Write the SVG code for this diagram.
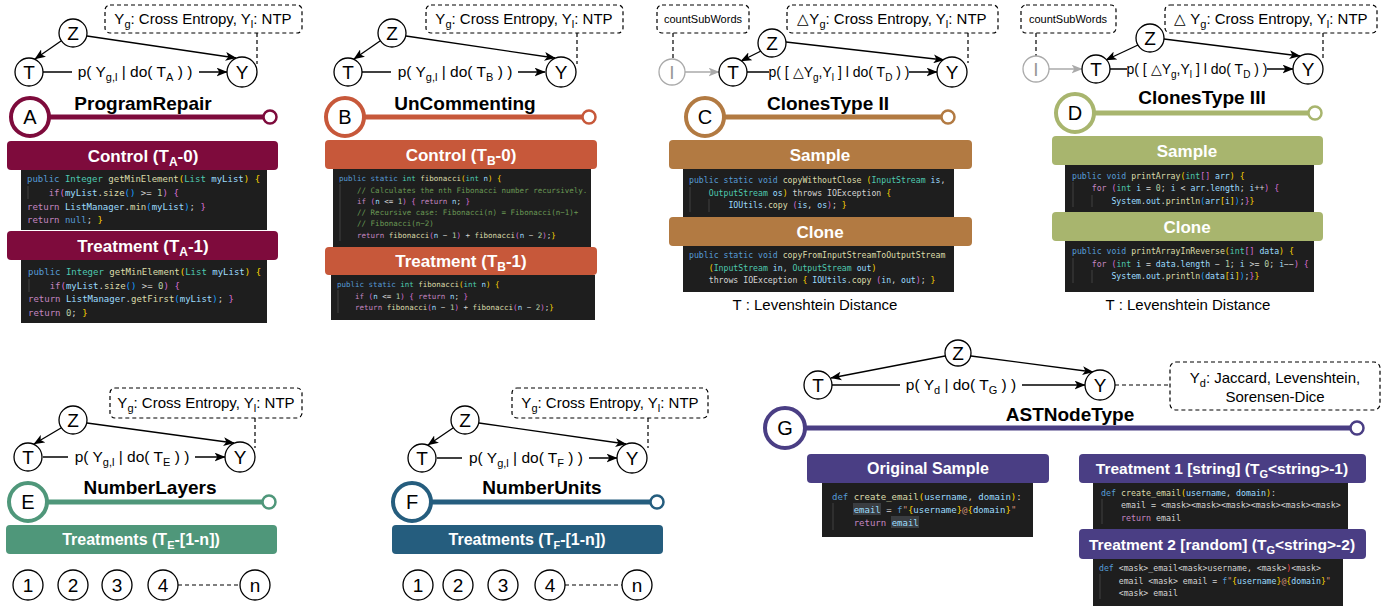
<svg xmlns="http://www.w3.org/2000/svg" width="1391" height="606" viewBox="0 0 1391 606">
<style>
text{font-family:"Liberation Sans",Arial,sans-serif;}
.nd{fill:#fff;stroke:#000;stroke-width:1.3;}
.ndg{fill:#fff;stroke:#aaa;stroke-width:1.3;}
.lt{font-size:19px;text-anchor:middle;fill:#000;}
.note{fill:#fff;stroke:#000;stroke-width:1.2;stroke-dasharray:4 3;}
.nt{font-size:15px;text-anchor:middle;}
.sm{font-size:11px;text-anchor:middle;}
.ttl{font-size:19px;font-weight:bold;text-anchor:middle;}
.bt{font-size:17px;font-weight:bold;fill:#fff;text-anchor:middle;}
.bl{font-size:20px;text-anchor:middle;}
.el{font-size:15.5px;text-anchor:middle;}
.el2{font-size:14px;text-anchor:middle;}
.cb{fill:#1e1e1e;}
.code{font-family:"DejaVu Sans Mono",monospace;fill:#d4d4d4;white-space:pre;}
.k{fill:#569cd6}.t{fill:#4ec9b0}.f{fill:#dcdcaa}.v{fill:#9cdcfe}.c{fill:#c586c0}.n{fill:#b5cea8}.cm{fill:#6a9955}.b1{fill:#ffd700}.b2{fill:#da70d6}.b3{fill:#179fff}.s{fill:#ce9178}.r{fill:#f44747}
.ar{fill:none;stroke:#000;stroke-width:1.3;marker-end:url(#ah);}
.arg{fill:none;stroke:#aaa;stroke-width:1.3;marker-end:url(#ahg);}
.dl{fill:none;stroke:#000;stroke-width:1.2;stroke-dasharray:4 3;}
.ig{stroke:#404040;stroke-width:1;}
</style>
<defs>
<marker id="ah" viewBox="0 0 10 8" refX="9.5" refY="4" markerWidth="11" markerHeight="9" markerUnits="userSpaceOnUse" orient="auto"><path d="M0,0 L10,4 L0,8 L2.5,4 z" fill="#000"/></marker>
<marker id="ahg" viewBox="0 0 10 8" refX="9.5" refY="4" markerWidth="11" markerHeight="9" markerUnits="userSpaceOnUse" orient="auto"><path d="M0,0 L10,4 L0,8 L2.5,4 z" fill="#aaa"/></marker>
</defs>
<rect width="1391" height="606" fill="#fff"/>

<g id="connectors">
<path class="ar" d="M61,41 L35,59"/>
<path class="ar" d="M87,36 L236,58"/>
<path class="ar" d="M43,72 L227,72"/>
<path class="dl" d="M257,33 L257,64"/>
<path class="ar" d="M380,41 L354,59"/>
<path class="ar" d="M406,36 L555,58"/>
<path class="ar" d="M362,72 L545,72"/>
<path class="dl" d="M577,33 L577,64"/>
<path class="dl" d="M673,33 L673,59"/>
<path class="arg" d="M685,72 L719,72"/>
<path class="ar" d="M761,51 L741,61"/>
<path class="ar" d="M786,42 L944,60"/>
<path class="ar" d="M747,72 L937,72"/>
<path class="dl" d="M968,33 L968,63"/>
<path class="dl" d="M1036,33 L1036,56"/>
<path class="arg" d="M1049,69 L1082,69"/>
<path class="ar" d="M1138,45 L1106,60"/>
<path class="ar" d="M1164,39 L1300,56"/>
<path class="ar" d="M1110,69 L1293,69"/>
<path class="dl" d="M1323,33 L1323,60"/>
<path class="ar" d="M61,428 L34,444"/>
<path class="ar" d="M87,423 L234,443"/>
<path class="ar" d="M43,457 L225,457"/>
<path class="dl" d="M255,418 L255,448"/>
<path class="dl" d="M178,585 L240,585"/>
<path class="ar" d="M453,428 L428,445"/>
<path class="ar" d="M479,423 L626,444"/>
<path class="ar" d="M437,458 L617,458"/>
<path class="dl" d="M648,418 L648,448"/>
<path class="dl" d="M565,585 L622,585"/>
<path class="ar" d="M945,356 L831,378"/>
<path class="ar" d="M971,356 L1093,372"/>
<path class="ar" d="M832,385 L1085,385"/>
<path class="dl" d="M1115,385 L1170,385"/>
</g>

<g id="edge-labels">
<rect x="72" y="62" width="127" height="20" fill="#fff"/>
<text class="el" x="135" y="77">p( Y<tspan font-size="11" dy="4">g,l</tspan><tspan dy="-4"> | do( T</tspan><tspan font-size="11" dy="4">A</tspan><tspan dy="-4"> ) )</tspan></text>
<rect x="391" y="62" width="127" height="20" fill="#fff"/>
<text class="el" x="455" y="77">p( Y<tspan font-size="11" dy="4">g,l</tspan><tspan dy="-4"> | do( T</tspan><tspan font-size="11" dy="4">B</tspan><tspan dy="-4"> ) )</tspan></text>
<rect x="769" y="63" width="140" height="18" fill="#fff"/>
<text class="el2" x="839" y="77">p( [ △Y<tspan font-size="10" dy="4">g</tspan><tspan dy="-4">,Y</tspan><tspan font-size="10" dy="4">l</tspan><tspan dy="-4"> ] l do( T</tspan><tspan font-size="10" dy="4">D</tspan><tspan dy="-4"> ) )</tspan></text>
<rect x="1127" y="60" width="140" height="18" fill="#fff"/>
<text class="el2" x="1197" y="74">p( [ △Y<tspan font-size="10" dy="4">g</tspan><tspan dy="-4">,Y</tspan><tspan font-size="10" dy="4">l</tspan><tspan dy="-4"> ] l do( T</tspan><tspan font-size="10" dy="4">D</tspan><tspan dy="-4"> ) )</tspan></text>
<rect x="68" y="447" width="127" height="20" fill="#fff"/>
<text class="el" x="132" y="462">p( Y<tspan font-size="11" dy="4">g,l</tspan><tspan dy="-4"> | do( T</tspan><tspan font-size="11" dy="4">E</tspan><tspan dy="-4"> ) )</tspan></text>
<rect x="462" y="448" width="127" height="20" fill="#fff"/>
<text class="el" x="526" y="463">p( Y<tspan font-size="11" dy="4">g,l</tspan><tspan dy="-4"> | do( T</tspan><tspan font-size="11" dy="4">F</tspan><tspan dy="-4"> ) )</tspan></text>
<rect x="900" y="375" width="122" height="20" fill="#fff"/>
<text class="el" x="961" y="390">p( Y<tspan font-size="11" dy="4">d</tspan><tspan dy="-4"> | do( T</tspan><tspan font-size="11" dy="4">G</tspan><tspan dy="-4"> ) )</tspan></text>
</g>

<g id="A-note"><rect class="note" x="105" y="5" width="197" height="28" rx="5"/>
<text class="nt" x="203" y="24">Y<tspan font-size="11" dy="4">g</tspan><tspan dy="-4">: Cross Entropy, Y</tspan><tspan font-size="11" dy="4">l</tspan><tspan dy="-4">: NTP</tspan></text></g>
<g id="A-Z"><circle class="nd" cx="73" cy="33" r="14"/><text class="lt" x="73" y="40">Z</text></g>
<g id="A-T"><circle class="nd" cx="29" cy="72" r="14"/><text class="lt" x="29" y="79">T</text></g>
<g id="A-Y"><circle class="nd" cx="242" cy="72" r="15"/><text class="lt" x="242" y="79">Y</text></g>
<g id="A-title"><text class="ttl" x="143" y="110">ProgramRepair</text></g>
<g id="A-badge"><line x1="50" y1="117" x2="264" y2="117" stroke="#7e0b3c" stroke-width="5"/><circle cx="270" cy="117" r="6.5" fill="#fff" stroke="#7e0b3c" stroke-width="2.5"/><circle cx="30" cy="117" r="19" fill="#fff" stroke="#7e0b3c" stroke-width="4"/><text class="bl" x="30" y="124">A</text></g>
<g id="A-control"><rect x="7" y="141" width="271" height="29" rx="4" fill="#7e0b3c"/><text class="bt" x="143" y="162">Control (T<tspan font-size="12" dy="4">A</tspan><tspan dy="-4">-0)</tspan></text></g>
<g id="A-code0"><rect class="cb" x="21" y="170" width="246" height="60"/>
<line class="ig" x1="28" y1="186" x2="28" y2="199"/>
<text class="code" font-size="9" x="27" y="182"><tspan class="k">public</tspan> <tspan class="t">Integer</tspan> <tspan class="f">getMinElement</tspan><tspan class="b1">(</tspan><tspan class="t">List</tspan> <tspan class="v">myList</tspan><tspan class="b1">)</tspan> <tspan class="b1">{</tspan></text>
<text class="code" font-size="9" x="27" y="196">    <tspan class="c">if</tspan><tspan class="b2">(</tspan><tspan class="v">myList</tspan>.<tspan class="f">size</tspan><tspan class="b3">()</tspan> &gt;= <tspan class="n">1</tspan><tspan class="b2">)</tspan> <tspan class="b2">{</tspan></text>
<text class="code" font-size="9" x="27" y="210"><tspan class="c">return</tspan> <tspan class="v">ListManager</tspan>.<tspan class="f">min</tspan><tspan class="b3">(</tspan><tspan class="v">myList</tspan><tspan class="b3">)</tspan>; <tspan class="b2">}</tspan></text>
<text class="code" font-size="9" x="27" y="223"><tspan class="c">return</tspan> <tspan class="k">null</tspan>; <tspan class="b1">}</tspan></text></g>
<g id="A-treatment"><rect x="7" y="231" width="271" height="29" rx="4" fill="#7e0b3c"/><text class="bt" x="143" y="252">Treatment (T<tspan font-size="12" dy="4">A</tspan><tspan dy="-4">-1)</tspan></text></g>
<g id="A-code1"><rect class="cb" x="21" y="260" width="246" height="63"/>
<line class="ig" x1="29" y1="279" x2="29" y2="292"/>
<text class="code" font-size="9" x="28" y="275"><tspan class="k">public</tspan> <tspan class="t">Integer</tspan> <tspan class="f">getMinElement</tspan><tspan class="b1">(</tspan><tspan class="t">List</tspan> <tspan class="v">myList</tspan><tspan class="b1">)</tspan> <tspan class="b1">{</tspan></text>
<text class="code" font-size="9" x="28" y="289">    <tspan class="c">if</tspan><tspan class="b2">(</tspan><tspan class="v">myList</tspan>.<tspan class="f">size</tspan><tspan class="b3">()</tspan> &gt;= <tspan class="n">0</tspan><tspan class="b2">)</tspan> <tspan class="b2">{</tspan></text>
<text class="code" font-size="9" x="28" y="302"><tspan class="c">return</tspan> <tspan class="v">ListManager</tspan>.<tspan class="f">getFirst</tspan><tspan class="b3">(</tspan><tspan class="v">myList</tspan><tspan class="b3">)</tspan>; <tspan class="b2">}</tspan></text>
<text class="code" font-size="9" x="28" y="316"><tspan class="c">return</tspan> <tspan class="n">0</tspan>; <tspan class="b1">}</tspan></text></g>

<g id="B-note"><rect class="note" x="426" y="5" width="197" height="28" rx="5"/>
<text class="nt" x="524" y="24">Y<tspan font-size="11" dy="4">g</tspan><tspan dy="-4">: Cross Entropy, Y</tspan><tspan font-size="11" dy="4">l</tspan><tspan dy="-4">: NTP</tspan></text></g>
<g id="B-Z"><circle class="nd" cx="392" cy="33" r="14"/><text class="lt" x="392" y="40">Z</text></g>
<g id="B-T"><circle class="nd" cx="348" cy="72" r="14"/><text class="lt" x="348" y="79">T</text></g>
<g id="B-Y"><circle class="nd" cx="561" cy="72" r="15"/><text class="lt" x="561" y="79">Y</text></g>
<g id="B-title"><text class="ttl" x="465" y="110">UnCommenting</text></g>
<g id="B-badge"><line x1="365" y1="117" x2="583" y2="117" stroke="#c7583a" stroke-width="5"/><circle cx="589" cy="117" r="6.5" fill="#fff" stroke="#c7583a" stroke-width="2.5"/><circle cx="345" cy="117" r="19" fill="#fff" stroke="#c7583a" stroke-width="4"/><text class="bl" x="345" y="124">B</text></g>
<g id="B-control"><rect x="325" y="140" width="272" height="29" rx="4" fill="#c7583a"/><text class="bt" x="461" y="161">Control (T<tspan font-size="12" dy="4">B</tspan><tspan dy="-4">-0)</tspan></text></g>
<g id="B-code0"><rect class="cb" x="333" y="169" width="258" height="78"/>
<line class="ig" x1="340" y1="184" x2="340" y2="241"/>
<text class="code" font-size="7.5" x="339" y="181"><tspan class="k">public static</tspan> <tspan class="t">int</tspan> <tspan class="f">fibonacci</tspan><tspan class="b1">(</tspan><tspan class="t">int</tspan> <tspan class="v">n</tspan><tspan class="b1">)</tspan> <tspan class="b1">{</tspan></text>
<text class="code" font-size="7.5" x="339" y="193">    <tspan class="cm">// Calculates the nth Fibonacci number recursively.</tspan></text>
<text class="code" font-size="7.5" x="339" y="204">    <tspan class="c">if</tspan> <tspan class="b2">(</tspan><tspan class="v">n</tspan> &lt;= <tspan class="n">1</tspan><tspan class="b2">)</tspan> <tspan class="b2">{</tspan> <tspan class="c">return</tspan> <tspan class="v">n</tspan>; <tspan class="b2">}</tspan></text>
<text class="code" font-size="7.5" x="339" y="215">    <tspan class="cm">// Recursive case: Fibonacci(n) = Fibonacci(n−1)+</tspan></text>
<text class="code" font-size="7.5" x="339" y="226">    <tspan class="cm">// Fibonacci(n−2)</tspan></text>
<text class="code" font-size="7.5" x="339" y="238">    <tspan class="c">return</tspan> <tspan class="f">fibonacci</tspan><tspan class="b2">(</tspan><tspan class="v">n</tspan> − <tspan class="n">1</tspan><tspan class="b2">)</tspan> + <tspan class="f">fibonacci</tspan><tspan class="b2">(</tspan><tspan class="v">n</tspan> − <tspan class="n">2</tspan><tspan class="b2">)</tspan>;<tspan class="b1">}</tspan></text></g>
<g id="B-treatment"><rect x="325" y="247" width="272" height="28" rx="4" fill="#c7583a"/><text class="bt" x="461" y="267">Treatment (T<tspan font-size="12" dy="4">B</tspan><tspan dy="-4">-1)</tspan></text></g>
<g id="B-code1"><rect class="cb" x="331" y="275" width="264" height="45"/>
<line class="ig" x1="338" y1="290" x2="338" y2="313"/>
<text class="code" font-size="7.5" x="337" y="287"><tspan class="k">public static</tspan> <tspan class="t">int</tspan> <tspan class="f">fibonacci</tspan><tspan class="b1">(</tspan><tspan class="t">int</tspan> <tspan class="v">n</tspan><tspan class="b1">)</tspan> <tspan class="b1">{</tspan></text>
<text class="code" font-size="7.5" x="337" y="299">    <tspan class="c">if</tspan> <tspan class="b2">(</tspan><tspan class="v">n</tspan> &lt;= <tspan class="n">1</tspan><tspan class="b2">)</tspan> <tspan class="b2">{</tspan> <tspan class="c">return</tspan> <tspan class="v">n</tspan>; <tspan class="b2">}</tspan></text>
<text class="code" font-size="7.5" x="337" y="310">    <tspan class="c">return</tspan> <tspan class="f">fibonacci</tspan><tspan class="b2">(</tspan><tspan class="v">n</tspan> − <tspan class="n">1</tspan><tspan class="b2">)</tspan> + <tspan class="f">fibonacci</tspan><tspan class="b2">(</tspan><tspan class="v">n</tspan> − <tspan class="n">2</tspan><tspan class="b2">)</tspan>;<tspan class="b1">}</tspan></text></g>

<g id="C-countSubWords"><rect class="note" x="657" y="5" width="92" height="28" rx="5"/><text class="sm" x="703" y="23">countSubWords</text></g>
<g id="C-note"><rect class="note" x="787" y="5" width="211" height="28" rx="5"/>
<text class="nt" x="892" y="24">△Y<tspan font-size="11" dy="4">g</tspan><tspan dy="-4">: Cross Entropy, Y</tspan><tspan font-size="11" dy="4">l</tspan><tspan dy="-4">: NTP</tspan></text></g>
<g id="C-I"><circle class="ndg" cx="672" cy="72" r="13"/><text class="lt" x="672" y="79" style="fill:#999">I</text></g>
<g id="C-T"><circle class="nd" cx="733" cy="72" r="14"/><text class="lt" x="733" y="79">T</text></g>
<g id="C-Z"><circle class="nd" cx="772" cy="43" r="14"/><text class="lt" x="772" y="50">Z</text></g>
<g id="C-Y"><circle class="nd" cx="952" cy="72" r="15"/><text class="lt" x="952" y="79">Y</text></g>
<g id="C-title"><text class="ttl" x="828" y="110">ClonesType II</text></g>
<g id="C-badge"><line x1="725" y1="117" x2="942" y2="117" stroke="#b27a42" stroke-width="5"/><circle cx="948" cy="117" r="6.5" fill="#fff" stroke="#b27a42" stroke-width="2.5"/><circle cx="705" cy="117" r="19" fill="#fff" stroke="#b27a42" stroke-width="4"/><text class="bl" x="705" y="124">C</text></g>
<g id="C-sample"><rect x="669" y="140" width="303" height="29" rx="4" fill="#b27a42"/><text class="bt" x="820" y="161">Sample</text></g>
<g id="C-code0"><rect class="cb" x="683" y="169" width="271" height="48"/>
<line class="ig" x1="690" y1="187" x2="690" y2="212"/><line class="ig" x1="709" y1="199" x2="709" y2="212"/>
<text class="code" font-size="8.2" x="689" y="183"><tspan class="k">public static void</tspan> <tspan class="f">copyWithoutClose</tspan> <tspan class="b1">(</tspan><tspan class="t">InputStream</tspan> <tspan class="v">is</tspan>,</text>
<text class="code" font-size="8.2" x="689" y="196">    <tspan class="t">OutputStream</tspan> <tspan class="v">os</tspan><tspan class="b1">)</tspan> throws IOException <tspan class="b1">{</tspan></text>
<text class="code" font-size="8.2" x="689" y="208">        <tspan class="v">IOUtils</tspan>.<tspan class="f">copy</tspan> <tspan class="b2">(</tspan><tspan class="v">is</tspan>, <tspan class="v">os</tspan><tspan class="b2">)</tspan>; <tspan class="b1">}</tspan></text></g>
<g id="C-clone"><rect x="669" y="217" width="303" height="29" rx="4" fill="#b27a42"/><text class="bt" x="820" y="238">Clone</text></g>
<g id="C-code1"><rect class="cb" x="683" y="246" width="271" height="46"/>
<text class="code" font-size="8.2" x="689" y="258"><tspan class="k">public static void</tspan> <tspan class="f">copyFromInputStreamToOutputStream</tspan></text>
<text class="code" font-size="8.2" x="689" y="271">    <tspan class="b1">(</tspan><tspan class="t">InputStream</tspan> <tspan class="v">in</tspan>, <tspan class="t">OutputStream</tspan> <tspan class="v">out</tspan><tspan class="b1">)</tspan></text>
<text class="code" font-size="8.2" x="689" y="283">    throws IOException <tspan class="b1">{</tspan> <tspan class="v">IOUtils</tspan>.<tspan class="f">copy</tspan> <tspan class="b2">(</tspan><tspan class="v">in</tspan>, <tspan class="v">out</tspan><tspan class="b2">)</tspan>; <tspan class="b1">}</tspan></text></g>
<g id="C-metric"><text font-size="15" x="815" y="310" text-anchor="middle">T : Levenshtein Distance</text></g>

<g id="D-countSubWords"><rect class="note" x="1021" y="5" width="95" height="28" rx="5"/><text class="sm" x="1068" y="23">countSubWords</text></g>
<g id="D-note"><rect class="note" x="1165" y="5" width="212" height="28" rx="5"/>
<text class="nt" x="1271" y="24">△ Y<tspan font-size="11" dy="4">g</tspan><tspan dy="-4">: Cross Entropy, Y</tspan><tspan font-size="11" dy="4">l</tspan><tspan dy="-4">: NTP</tspan></text></g>
<g id="D-I"><circle class="ndg" cx="1036" cy="69" r="13"/><text class="lt" x="1036" y="76" style="fill:#999">I</text></g>
<g id="D-T"><circle class="nd" cx="1096" cy="69" r="14"/><text class="lt" x="1096" y="76">T</text></g>
<g id="D-Z"><circle class="nd" cx="1150" cy="38" r="14"/><text class="lt" x="1150" y="45">Z</text></g>
<g id="D-Y"><circle class="nd" cx="1308" cy="69" r="15"/><text class="lt" x="1308" y="76">Y</text></g>
<g id="D-title"><text class="ttl" x="1202" y="104">ClonesType III</text></g>
<g id="D-badge"><line x1="1095" y1="113" x2="1309" y2="113" stroke="#a8b56e" stroke-width="5"/><circle cx="1315" cy="113" r="6.5" fill="#fff" stroke="#a8b56e" stroke-width="2.5"/><circle cx="1075" cy="113" r="19" fill="#fff" stroke="#a8b56e" stroke-width="4"/><text class="bl" x="1075" y="120">D</text></g>
<g id="D-sample"><rect x="1052" y="136" width="271" height="29" rx="4" fill="#a8b56e"/><text class="bt" x="1187" y="157">Sample</text></g>
<g id="D-code0"><rect class="cb" x="1065" y="165" width="249" height="47"/>
<line class="ig" x1="1073" y1="182" x2="1073" y2="207"/><line class="ig" x1="1092" y1="195" x2="1092" y2="207"/>
<text class="code" font-size="8.2" x="1072" y="179"><tspan class="k">public void</tspan> <tspan class="f">printArray</tspan><tspan class="b1">(</tspan><tspan class="t">int</tspan><tspan class="b2">[]</tspan> <tspan class="v">arr</tspan><tspan class="b1">)</tspan> <tspan class="b1">{</tspan></text>
<text class="code" font-size="8.2" x="1072" y="191">    <tspan class="c">for</tspan> <tspan class="b2">(</tspan><tspan class="t">int</tspan> <tspan class="v">i</tspan> = <tspan class="n">0</tspan>; <tspan class="v">i</tspan> &lt; <tspan class="v">arr</tspan>.<tspan class="v">length</tspan>; <tspan class="v">i</tspan>++<tspan class="b2">)</tspan> <tspan class="b2">{</tspan></text>
<text class="code" font-size="8.2" x="1072" y="204">        <tspan class="v">System</tspan>.<tspan class="v">out</tspan>.<tspan class="f">println</tspan><tspan class="b3">(</tspan><tspan class="v">arr</tspan><tspan class="b1">[</tspan><tspan class="v">i</tspan><tspan class="b1">]</tspan><tspan class="b3">)</tspan>;<tspan class="b2">}</tspan><tspan class="b1">}</tspan></text></g>
<g id="D-clone"><rect x="1052" y="212" width="271" height="29" rx="4" fill="#a8b56e"/><text class="bt" x="1187" y="233">Clone</text></g>
<g id="D-code1"><rect class="cb" x="1065" y="241" width="249" height="51"/>
<line class="ig" x1="1073" y1="258" x2="1073" y2="283"/><line class="ig" x1="1092" y1="270" x2="1092" y2="283"/>
<text class="code" font-size="8.2" x="1072" y="254"><tspan class="k">public void</tspan> <tspan class="f">printArrayInReverse</tspan><tspan class="b1">(</tspan><tspan class="t">int</tspan><tspan class="b2">[]</tspan> <tspan class="v">data</tspan><tspan class="b1">)</tspan> <tspan class="b1">{</tspan></text>
<text class="code" font-size="8.2" x="1072" y="267">    <tspan class="c">for</tspan> <tspan class="b2">(</tspan><tspan class="t">int</tspan> <tspan class="v">i</tspan> = <tspan class="v">data</tspan>.<tspan class="v">length</tspan> − <tspan class="n">1</tspan>; <tspan class="v">i</tspan> &gt;= <tspan class="n">0</tspan>; <tspan class="v">i</tspan>−−<tspan class="b2">)</tspan> <tspan class="b2">{</tspan></text>
<text class="code" font-size="8.2" x="1072" y="279">        <tspan class="v">System</tspan>.<tspan class="v">out</tspan>.<tspan class="f">println</tspan><tspan class="b3">(</tspan><tspan class="v">data</tspan><tspan class="b1">[</tspan><tspan class="v">i</tspan><tspan class="b1">]</tspan><tspan class="b3">)</tspan>;<tspan class="b2">}</tspan><tspan class="b1">}</tspan></text></g>
<g id="D-metric"><text font-size="15" x="1188" y="310" text-anchor="middle">T : Levenshtein Distance</text></g>

<g id="E-note"><rect class="note" x="110" y="388" width="192" height="30" rx="5"/>
<text class="nt" x="206" y="408">Y<tspan font-size="11" dy="4">g</tspan><tspan dy="-4">: Cross Entropy, Y</tspan><tspan font-size="11" dy="4">l</tspan><tspan dy="-4">: NTP</tspan></text></g>
<g id="E-Z"><circle class="nd" cx="73" cy="420" r="14"/><text class="lt" x="73" y="427">Z</text></g>
<g id="E-T"><circle class="nd" cx="28" cy="457" r="14"/><text class="lt" x="28" y="464">T</text></g>
<g id="E-Y"><circle class="nd" cx="240" cy="457" r="15"/><text class="lt" x="240" y="464">Y</text></g>
<g id="E-title"><text class="ttl" x="150" y="494">NumberLayers</text></g>
<g id="E-badge"><line x1="48" y1="502" x2="263" y2="502" stroke="#4f977a" stroke-width="5"/><circle cx="269" cy="502" r="6.5" fill="#fff" stroke="#4f977a" stroke-width="2.5"/><circle cx="28" cy="502" r="19" fill="#fff" stroke="#4f977a" stroke-width="4"/><text class="bl" x="28" y="509">E</text></g>
<g id="E-treatments"><rect x="6" y="525" width="271" height="29" rx="4" fill="#4f977a"/><text class="bt" style="font-size:16px" x="141" y="545">Treatments (T<tspan font-size="11" dy="4">E</tspan><tspan dy="-4">-[1-n])</tspan></text></g>
<g id="E-1"><circle class="nd" cx="28" cy="585" r="15"/><text class="lt" x="28" y="592">1</text></g>
<g id="E-2"><circle class="nd" cx="73" cy="585" r="15"/><text class="lt" x="73" y="592">2</text></g>
<g id="E-3"><circle class="nd" cx="117" cy="585" r="15"/><text class="lt" x="117" y="592">3</text></g>
<g id="E-4"><circle class="nd" cx="163" cy="585" r="15"/><text class="lt" x="163" y="592">4</text></g>
<g id="E-n"><circle class="nd" cx="255" cy="585" r="15"/><text class="lt" x="255" y="591.5">n</text></g>

<g id="F-note"><rect class="note" x="512" y="388" width="196" height="30" rx="5"/>
<text class="nt" x="610" y="408">Y<tspan font-size="11" dy="4">g</tspan><tspan dy="-4">: Cross Entropy, Y</tspan><tspan font-size="11" dy="4">l</tspan><tspan dy="-4">: NTP</tspan></text></g>
<g id="F-Z"><circle class="nd" cx="465" cy="420" r="14"/><text class="lt" x="465" y="427">Z</text></g>
<g id="F-T"><circle class="nd" cx="422" cy="458" r="14"/><text class="lt" x="422" y="465">T</text></g>
<g id="F-Y"><circle class="nd" cx="632" cy="458" r="15"/><text class="lt" x="632" y="465">Y</text></g>
<g id="F-title"><text class="ttl" x="542" y="494">NumberUnits</text></g>
<g id="F-badge"><line x1="432" y1="502" x2="651" y2="502" stroke="#255d7e" stroke-width="5"/><circle cx="657" cy="502" r="6.5" fill="#fff" stroke="#255d7e" stroke-width="2.5"/><circle cx="412" cy="502" r="19" fill="#fff" stroke="#255d7e" stroke-width="4"/><text class="bl" x="412" y="509">F</text></g>
<g id="F-treatments"><rect x="392" y="525" width="271" height="29" rx="4" fill="#255d7e"/><text class="bt" style="font-size:16px" x="527" y="545">Treatments (T<tspan font-size="11" dy="4">F</tspan><tspan dy="-4">-[1-n])</tspan></text></g>
<g id="F-1"><circle class="nd" cx="418" cy="585" r="15"/><text class="lt" x="418" y="592">1</text></g>
<g id="F-2"><circle class="nd" cx="458" cy="585" r="15"/><text class="lt" x="458" y="592">2</text></g>
<g id="F-3"><circle class="nd" cx="503" cy="585" r="15"/><text class="lt" x="503" y="592">3</text></g>
<g id="F-4"><circle class="nd" cx="550" cy="585" r="15"/><text class="lt" x="550" y="592">4</text></g>
<g id="F-n"><circle class="nd" cx="637" cy="585" r="15"/><text class="lt" x="637" y="591.5">n</text></g>

<g id="G-Z"><circle class="nd" cx="958" cy="353" r="13"/><text class="lt" x="958" y="360">Z</text></g>
<g id="G-T"><circle class="nd" cx="818" cy="385" r="14"/><text class="lt" x="818" y="392">T</text></g>
<g id="G-Y"><circle class="nd" cx="1100" cy="385" r="15"/><text class="lt" x="1100" y="392">Y</text></g>
<g id="G-note"><rect class="note" x="1170" y="362" width="210" height="48" rx="6"/>
<text class="nt" x="1275" y="383">Y<tspan font-size="11" dy="4">d</tspan><tspan dy="-4">: Jaccard, Levenshtein,</tspan></text>
<text class="nt" x="1275" y="402">Sorensen-Dice</text></g>
<g id="G-title"><text class="ttl" x="1070" y="421">ASTNodeType</text></g>
<g id="G-badge"><line x1="806" y1="428" x2="1350" y2="428" stroke="#4a3e84" stroke-width="5"/><circle cx="1357" cy="428" r="6.5" fill="#fff" stroke="#4a3e84" stroke-width="2.5"/><circle cx="785" cy="428" r="20" fill="#fff" stroke="#4a3e84" stroke-width="4"/><text class="bl" x="785" y="435">G</text></g>
<g id="G-original"><rect x="807" y="454" width="242" height="29" rx="4" fill="#4a3e84"/><text class="bt" style="font-size:16px" x="928" y="474">Original Sample</text></g>
<g id="G-code0"><rect class="cb" x="822" y="483" width="211" height="54"/>
<line class="ig" x1="833" y1="503" x2="833" y2="530"/>
<rect x="853" y="503" width="28" height="12" fill="#3a3d41"/><rect x="891" y="516" width="28" height="12" fill="#3a3d41"/>
<text class="code" font-size="9" x="832" y="500"><tspan class="k">def</tspan> <tspan class="f">create_email</tspan><tspan class="b1">(</tspan><tspan class="v">username</tspan>, <tspan class="v">domain</tspan><tspan class="b1">)</tspan>:</text>
<text class="code" font-size="9" x="832" y="513">    <tspan class="v">email</tspan> = <tspan class="k">f</tspan><tspan class="s">"</tspan><tspan class="b1">{</tspan><tspan class="v">username</tspan><tspan class="b1">}</tspan><tspan class="s">@</tspan><tspan class="b1">{</tspan><tspan class="v">domain</tspan><tspan class="b1">}</tspan><tspan class="s">"</tspan></text>
<text class="code" font-size="9" x="832" y="526">    <tspan class="c">return</tspan> <tspan class="v">email</tspan></text></g>
<g id="G-treatment1"><rect x="1079" y="454" width="287" height="29" rx="4" fill="#4a3e84"/><text class="bt" style="font-size:15.5px" x="1222" y="474">Treatment 1 [string] (T<tspan font-size="11" dy="4">G</tspan><tspan dy="-4">&lt;string&gt;-1)</tspan></text></g>
<g id="G-code1"><rect class="cb" x="1093" y="483" width="255" height="46"/>
<line class="ig" x1="1102" y1="499" x2="1102" y2="524"/>
<text class="code" font-size="8.3" x="1101" y="496"><tspan class="k">def</tspan> <tspan class="f">create_email</tspan><tspan class="b1">(</tspan><tspan class="v">username</tspan>, <tspan class="v">domain</tspan><tspan class="b1">)</tspan>:</text>
<text class="code" font-size="8.3" x="1101" y="508">    email = &lt;mask&gt;&lt;mask&gt;&lt;mask&gt;&lt;mask&gt;&lt;mask&gt;&lt;mask&gt;</text>
<text class="code" font-size="8.3" x="1101" y="521">    <tspan class="c">return</tspan> email</text></g>
<g id="G-treatment2"><rect x="1079" y="529" width="287" height="30" rx="4" fill="#4a3e84"/><text class="bt" style="font-size:15.5px" x="1222" y="550">Treatment 2 [random] (T<tspan font-size="11" dy="4">G</tspan><tspan dy="-4">&lt;string&gt;-2)</tspan></text></g>
<g id="G-code2"><rect class="cb" x="1093" y="559" width="250" height="47"/>
<line class="ig" x1="1100" y1="574" x2="1100" y2="599"/>
<text class="code" font-size="8.2" x="1099" y="571"><tspan class="k">def</tspan> &lt;mask&gt;_email&lt;mask&gt;username, &lt;mask&gt;<tspan class="r">)</tspan>&lt;mask&gt;</text>
<text class="code" font-size="8.2" x="1099" y="584">    email &lt;mask&gt; email = <tspan class="k">f</tspan><tspan class="s">"</tspan><tspan class="b1">{</tspan><tspan class="v">username</tspan><tspan class="b1">}</tspan><tspan class="s">@</tspan><tspan class="b1">{</tspan><tspan class="v">domain</tspan><tspan class="b1">}</tspan><tspan class="s">"</tspan></text>
<text class="code" font-size="8.2" x="1099" y="596">    &lt;mask&gt; email</text></g>
</svg>
